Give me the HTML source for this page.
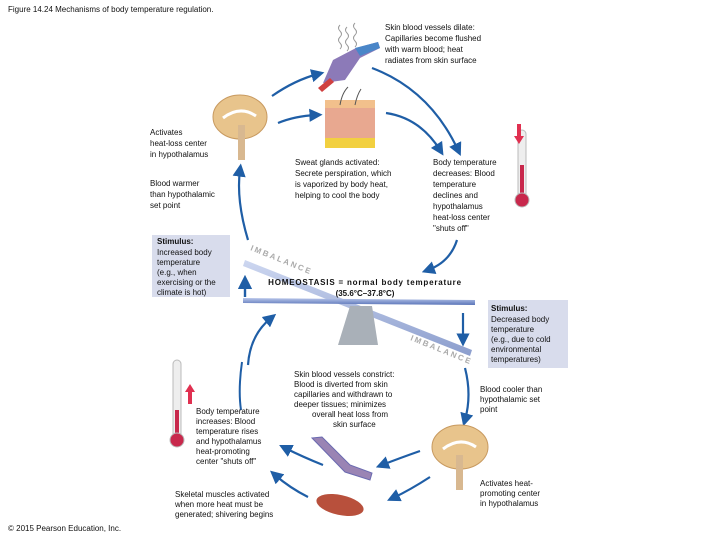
<!DOCTYPE html>
<html><head><style>
body{margin:0;background:#fff;}
svg{display:block;font-family:"Liberation Sans",sans-serif;}
text{font-size:8px;fill:#111;}
.b{font-weight:bold;}
</style></head><body>
<svg width="720" height="540" viewBox="0 0 720 540">
<defs>
<marker id="ah" markerWidth="6" markerHeight="6" refX="3" refY="3" orient="auto" markerUnits="strokeWidth"><path d="M0,0 L6,3 L0,6 z" fill="#1f5ea6"/></marker>
<linearGradient id="beam" x1="0" y1="0" x2="0" y2="1"><stop offset="0" stop-color="#b8c6ea"/><stop offset="1" stop-color="#5a74b8"/></linearGradient>
</defs>
<text x="8" y="12">Figure 14.24 Mechanisms of body temperature regulation.</text>
<text x="385" y="30">Skin blood vessels dilate:</text>
<text x="385" y="41">Capillaries become flushed</text>
<text x="385" y="52">with warm blood; heat</text>
<text x="385" y="63">radiates from skin surface</text>
<g stroke="#999" fill="none" stroke-width="1">
<path d="M340,25 q-3,3 0,6 q3,3 0,6 q-3,3 0,6 q3,3 0,6"/>
<path d="M347,27 q-3,3 0,6 q3,3 0,6 q-3,3 0,6 q3,3 0,6"/>
<path d="M355,23 q-3,3 0,6 q3,3 0,6 q-3,3 0,6 q3,3 0,6"/>
</g>
<path d="M323,83 L333,60 L356,48 L378,42 L380,48 L360,58 L345,80 Z" fill="#8c7ab8"/>
<path d="M318,88 L330,78 L334,82 L322,92 Z" fill="#d04040"/>
<path d="M355,48 L378,42 L380,48 L360,56 Z" fill="#4a86c8"/>
<rect x="325" y="105" width="50" height="35" fill="#e8a890"/>
<rect x="325" y="100" width="50" height="8" fill="#f2c08c"/>
<rect x="325" y="138" width="50" height="10" fill="#f2d040"/>
<path d="M340,105 q2,-12 8,-18 M355,105 q2,-10 6,-16" stroke="#555" fill="none"/>
<ellipse cx="240" cy="117" rx="27" ry="22" fill="#e8c48c" stroke="#c89a60"/>
<path d="M223,118 q17,-13 33,-2" stroke="#fff" stroke-width="3" fill="none"/>
<rect x="238" y="125" width="7" height="35" fill="#d8b890"/>
<text x="150" y="135">Activates</text>
<text x="150" y="146">heat-loss center</text>
<text x="150" y="157">in hypothalamus</text>
<text x="150" y="186">Blood warmer</text>
<text x="150" y="197">than hypothalamic</text>
<text x="150" y="208">set point</text>
<text x="295" y="165">Sweat glands activated:</text>
<text x="295" y="176">Secrete perspiration, which</text>
<text x="295" y="187">is vaporized by body heat,</text>
<text x="295" y="198">helping to cool the body</text>
<text x="433" y="165">Body temperature</text>
<text x="433" y="176">decreases: Blood</text>
<text x="433" y="187">temperature</text>
<text x="433" y="198">declines and</text>
<text x="433" y="209">hypothalamus</text>
<text x="433" y="220">heat-loss center</text>
<text x="433" y="231">"shuts off"</text>
<rect x="518" y="130" width="8" height="70" rx="4" fill="#eee" stroke="#bbb"/>
<rect x="520" y="165" width="4" height="35" fill="#c8284c"/>
<circle cx="522" cy="200" r="7" fill="#c8284c" stroke="#bbb"/>
<path d="M517,124 v12 h-3 l5,8 l5,-8 h-3 v-12z" fill="#e03050"/>
<rect x="152" y="235" width="78" height="62" fill="#d8dcec"/>
<text x="157" y="244" class="b">Stimulus:</text>
<text x="157" y="255">Increased body</text>
<text x="157" y="265">temperature</text>
<text x="157" y="275">(e.g., when</text>
<text x="157" y="285">exercising or the</text>
<text x="157" y="295">climate is hot)</text>
<path d="M245,260 L472,350 L470,356 L243,266 Z" fill="url(#beam)" opacity="0.7"/>
<path d="M243,298 L475,300 L475,305 L243,303 Z" fill="url(#beam)"/>
<path d="M350,306 L372,306 L378,345 L338,345 Z" fill="#a9b0b8"/>
<text x="250" y="250" transform="rotate(22 250 250)" style="font-size:8px;fill:#aaa;font-weight:bold;letter-spacing:2px">IMBALANCE</text>
<text x="410" y="340" transform="rotate(22 410 340)" style="font-size:8px;fill:#aaa;font-weight:bold;letter-spacing:2px">IMBALANCE</text>
<text x="365" y="285" text-anchor="middle" class="b" style="letter-spacing:0.8px">HOMEOSTASIS = normal body temperature</text>
<text x="365" y="296" text-anchor="middle" class="b">(35.6°C–37.8°C)</text>
<rect x="488" y="300" width="80" height="68" fill="#d8dcec"/>
<text x="491" y="311" class="b">Stimulus:</text>
<text x="491" y="322">Decreased body</text>
<text x="491" y="332">temperature</text>
<text x="491" y="342">(e.g., due to cold</text>
<text x="491" y="352">environmental</text>
<text x="491" y="362">temperatures)</text>
<g stroke="#1f5ea6" stroke-width="2.2" fill="none" marker-end="url(#ah)">
<path d="M272,96 Q295,80 318,74"/>
<path d="M278,123 Q295,116 316,115"/>
<path d="M372,68 Q430,90 458,150"/>
<path d="M386,113 Q420,118 440,150"/>
<path d="M248,240 Q236,200 240,170"/>
<path d="M457,240 Q450,262 428,270"/>
<path d="M248,365 Q250,335 271,318"/>
<path d="M245,297 L245,282" stroke-width="2.4"/>
<path d="M463,313 L463,340"/>
<path d="M465,368 Q472,395 465,420"/>
<path d="M420,451 Q400,458 382,465"/>
<path d="M430,477 Q410,490 393,498"/>
<path d="M323,465 Q303,457 285,448"/>
<path d="M308,497 Q290,488 275,475"/>
</g>
<path d="M242,362 Q238,390 241,410" stroke="#1f5ea6" stroke-width="2" fill="none"/>
<rect x="173" y="360" width="8" height="80" rx="4" fill="#eee" stroke="#bbb"/>
<rect x="175" y="410" width="4" height="30" fill="#c8284c"/>
<circle cx="177" cy="440" r="7" fill="#c8284c" stroke="#bbb"/>
<path d="M188,404 v-12 h-3 l5,-8 l5,8 h-3 v12z" fill="#e03050"/>
<text x="196" y="414">Body temperature</text>
<text x="196" y="424">increases: Blood</text>
<text x="196" y="434">temperature rises</text>
<text x="196" y="444">and hypothalamus</text>
<text x="196" y="454">heat-promoting</text>
<text x="196" y="464">center "shuts off"</text>
<text x="294" y="377">Skin blood vessels constrict:</text>
<text x="294" y="387">Blood is diverted from skin</text>
<text x="294" y="397">capillaries and withdrawn to</text>
<text x="294" y="407">deeper tissues; minimizes</text>
<text x="312" y="417">overall heat loss from</text>
<text x="333" y="427">skin surface</text>
<text x="480" y="392">Blood cooler than</text>
<text x="480" y="402">hypothalamic set</text>
<text x="480" y="412">point</text>
<text x="480" y="486">Activates heat-</text>
<text x="480" y="496">promoting center</text>
<text x="480" y="506">in hypothalamus</text>
<text x="175" y="497">Skeletal muscles activated</text>
<text x="175" y="507">when more heat must be</text>
<text x="175" y="517">generated; shivering begins</text>
<path d="M312,438 L322,437 L350,465 L372,473 L370,480 L345,472 Z" fill="#9a84b4" stroke="#6a6ab0"/>
<ellipse cx="340" cy="505" rx="24" ry="10" fill="#b8503c" transform="rotate(12 340 505)"/>
<ellipse cx="460" cy="447" rx="28" ry="22" fill="#e8c48c" stroke="#c89a60"/>
<path d="M443,449 q17,-13 33,-2" stroke="#fff" stroke-width="3" fill="none"/>
<rect x="456" y="455" width="7" height="35" fill="#d8b890"/>
<text x="8" y="531">© 2015 Pearson Education, Inc.</text>
</svg>
</body></html>
